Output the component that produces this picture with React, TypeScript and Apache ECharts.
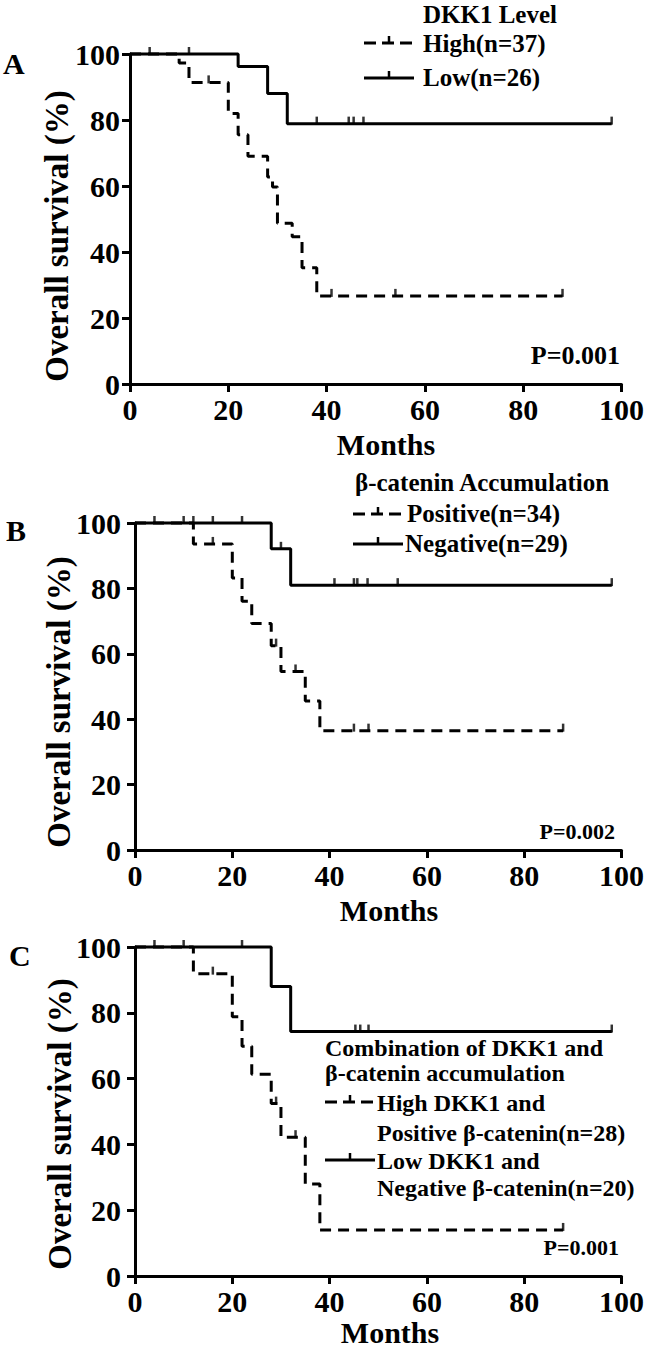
import React, { useEffect, useRef } from 'react';
import * as echarts from 'echarts';

const FONT = '"Liberation Serif", "Times New Roman", serif';

// ---------- Panel A : DKK1 level ----------
const aHighSteps = [[0, 100], [10, 97.3], [12, 91.4], [20, 82], [22, 75.5], [24, 69], [28, 62.7], [29, 59.7], [30, 48.7], [33, 44.6], [35, 35.2], [38, 26.7], [88, 26.7]];
const aHighCensor = [[16, 91.4], [41, 26.7], [54, 26.7], [88, 26.7]];
const aLowSteps = [[0, 100], [22, 96.2], [28, 88], [32, 78.9], [98, 78.9]];
const aLowCensor = [[4, 100], [12, 100], [38, 78.9], [44.5, 78.9], [45.5, 78.9], [47.5, 78.9], [98, 78.9]];

// ---------- Panel B : beta-catenin accumulation ----------
const bPosSteps = [[0, 100], [12, 93.6], [20, 83.2], [22, 76.1], [24, 69.3], [28, 62.5], [30, 54.6], [35, 45.6], [38, 36.5], [88, 36.5]];
const bPosCensor = [[16, 93.6], [29, 62.5], [33, 54.6], [45, 36.5], [48, 36.5], [88, 36.5]];
const bNegSteps = [[0, 100], [28, 92.1], [32, 81], [98, 81]];
const bNegCensor = [[4, 100], [10, 100], [12, 100], [16, 100], [22, 100], [30, 92.1], [41, 81], [45, 81], [45.7, 81], [47.8, 81], [54, 81], [98, 81]];

// ---------- Panel C : combination ----------
const cHighSteps = [[0, 100], [12, 91.9], [20, 78.8], [22, 69.8], [24, 61.3], [28, 52.4], [30, 42.2], [35, 28], [38, 14], [88, 14]];
const cHighCensor = [[16, 91.9], [29, 52.4], [33, 42.2], [88, 14]];
const cLowSteps = [[0, 100], [28, 88], [32, 74.3], [98, 74.3]];
const cLowCensor = [[4, 100], [10, 100], [22, 100], [45.3, 74.3], [46.3, 74.3], [48, 74.3], [98, 74.3]];

// ---------- Texts ----------
const panelLetters = ['A', 'B', 'C'];
const pValues = ['P=0.001', 'P=0.002', 'P=0.001'];
const yTitle = 'Overall survival (%)';
const xTitle = 'Months';
const legendA = ['DKK1 Level', 'High(n=37)', 'Low(n=26)'];
const legendB = ['\u03b2-catenin Accumulation', 'Positive(n=34)', 'Negative(n=29)'];
const legendC = ['Combination of DKK1 and', '\u03b2-catenin accumulation', 'High DKK1 and', 'Positive \u03b2-catenin(n=28)', 'Low DKK1 and', 'Negative \u03b2-catenin(n=20)'];

const DASH = [11, 7];

function txt(text: string, x: number, y: number, size: number, align = 'left', rotation = 0) {
  return {
    type: 'text',
    x,
    y,
    rotation,
    style: {
      text,
      fill: '#000',
      fontFamily: FONT,
      fontWeight: 'bold',
      fontSize: size,
      align,
      verticalAlign: 'middle',
    },
  };
}

function sample(x1: number, x2: number, y: number, dashed: boolean) {
  const tx = (x1 + x2) / 2;
  return [
    {
      type: 'line',
      shape: { x1, y1: y, x2, y2: y },
      style: { stroke: '#000', lineWidth: 3, lineDash: dashed ? [12, 6] : null },
    },
    {
      type: 'line',
      shape: { x1: tx, y1: y, x2: tx, y2: y - 7 },
      style: { stroke: '#000', lineWidth: 2.5 },
    },
  ];
}

function xAxis(gridIndex: number) {
  return {
    type: 'value',
    gridIndex,
    min: 0,
    max: 100,
    interval: 20,
    axisLine: { show: true, lineStyle: { color: '#000', width: 3 } },
    axisTick: { show: true, inside: false, length: 8, lineStyle: { color: '#000', width: 3 } },
    axisLabel: { color: '#000', fontFamily: FONT, fontWeight: 'bold', fontSize: 30, margin: 10 },
    splitLine: { show: false },
  };
}

function yAxis(gridIndex: number, margin: number) {
  return {
    type: 'value',
    gridIndex,
    min: 0,
    max: 100,
    interval: 20,
    axisLine: { show: true, lineStyle: { color: '#000', width: 3 } },
    axisTick: { show: true, inside: false, length: 8, lineStyle: { color: '#000', width: 3 } },
    axisLabel: { color: '#000', fontFamily: FONT, fontWeight: 'bold', fontSize: 30, margin },
    splitLine: { show: false },
  };
}

function km(data: number[][], idx: number, dashed: boolean) {
  return {
    type: 'line',
    xAxisIndex: idx,
    yAxisIndex: idx,
    data,
    step: 'end',
    symbol: 'none',
    clip: false,
    lineStyle: { color: '#000', width: 3, type: dashed ? DASH : 'solid' },
    z: 3,
  };
}

function censor(data: number[][], idx: number) {
  return {
    type: 'scatter',
    xAxisIndex: idx,
    yAxisIndex: idx,
    data,
    symbol: 'rect',
    symbolSize: [2.5, 8],
    symbolOffset: [0, -3],
    clip: false,
    itemStyle: { color: '#000' },
    z: 4,
  };
}

export default function App() {
  const ref = useRef<HTMLDivElement>(null);
  useEffect(() => {
    const chart = echarts.init(ref.current!, null, { renderer: 'svg' });
    const graphic: any[] = [
      // panel letters
      txt(panelLetters[0], 3, 63, 30),
      txt(panelLetters[1], 6, 530, 30),
      txt(panelLetters[2], 9, 955, 30),
      // y titles
      txt(yTitle, 57, 236, 33, 'center', Math.PI / 2),
      txt(yTitle, 59, 702, 33, 'center', Math.PI / 2),
      txt(yTitle, 60, 1124, 33, 'center', Math.PI / 2),
      // x titles
      txt(xTitle, 386, 444, 30, 'center'),
      txt(xTitle, 389, 910, 30, 'center'),
      txt(xTitle, 390, 1332, 30, 'center'),
      // p values
      txt(pValues[0], 620, 355, 26, 'right'),
      txt(pValues[1], 615, 831, 22, 'right'),
      txt(pValues[2], 619, 1247, 22, 'right'),
      // legend A
      txt(legendA[0], 423, 14, 25),
      ...sample(364, 414, 43, true),
      txt(legendA[1], 423, 43, 25),
      ...sample(364, 414, 78, false),
      txt(legendA[2], 423, 77, 25),
      // legend B
      txt(legendB[0], 355, 482, 25),
      ...sample(353, 403, 514, true),
      txt(legendB[1], 407, 513, 25),
      ...sample(353, 403, 544, false),
      txt(legendB[2], 405, 543, 25),
      // legend C
      txt(legendC[0], 325, 1048, 24),
      txt(legendC[1], 325, 1073, 24),
      ...sample(325, 375, 1102, true),
      txt(legendC[2], 377, 1103, 24),
      txt(legendC[3], 377, 1133, 24),
      ...sample(325, 375, 1160, false),
      txt(legendC[4], 377, 1161, 24),
      txt(legendC[5], 377, 1188, 24),
    ];
    chart.setOption({
      animation: false,
      backgroundColor: '#fff',
      grid: [
        { left: 130, top: 54, width: 495, height: 330 },
        { left: 135, top: 523, width: 492, height: 327 },
        { left: 135, top: 947, width: 495, height: 329 },
      ],
      xAxis: [xAxis(0), xAxis(1), xAxis(2)],
      yAxis: [yAxis(0, 10), yAxis(1, 14), yAxis(2, 14)],
      series: [
        km(aHighSteps, 0, true),
        km(aLowSteps, 0, false),
        censor(aHighCensor, 0),
        censor(aLowCensor, 0),
        km(bPosSteps, 1, true),
        km(bNegSteps, 1, false),
        censor(bPosCensor, 1),
        censor(bNegCensor, 1),
        km(cHighSteps, 2, true),
        km(cLowSteps, 2, false),
        censor(cHighCensor, 2),
        censor(cLowCensor, 2),
      ],
      graphic,
    });
    return () => chart.dispose();
  }, []);
  return (
    <div
      ref={ref}
      style={{ position: 'fixed', left: 0, top: 0, width: 647, height: 1349, background: '#fff' }}
    />
  );
}
